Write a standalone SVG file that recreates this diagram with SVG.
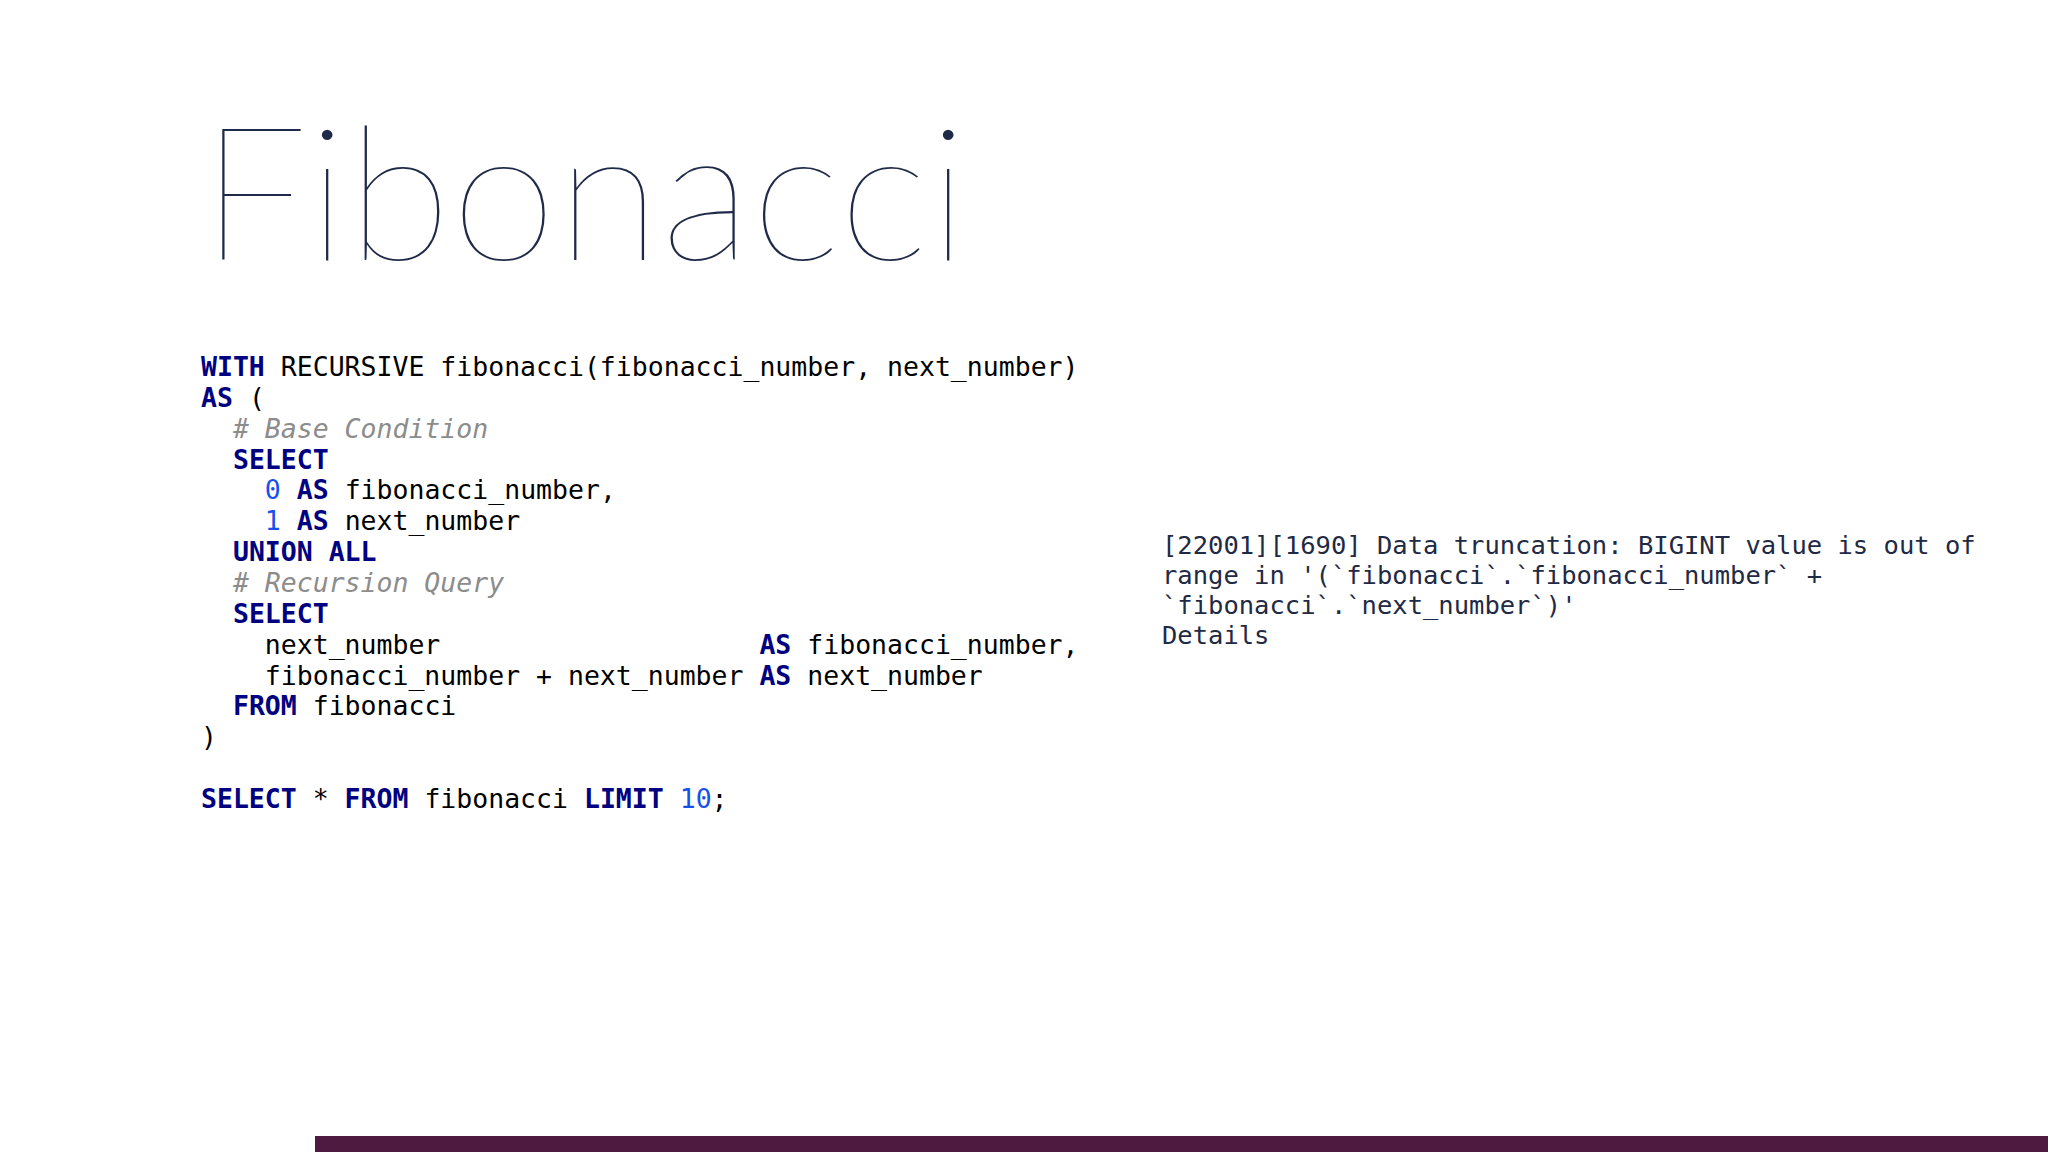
<svg xmlns="http://www.w3.org/2000/svg" width="2048" height="1152" viewBox="0 0 2048 1152">
<style>
.c{font-family:"DejaVu Sans Mono","Liberation Mono",monospace;font-size:26.5px;fill:#000;white-space:pre}
.k{fill:#000080;font-weight:bold}
.n{fill:#1750eb}
.m{fill:#8c8c8c;font-style:italic}
.e{font-family:"DejaVu Sans Mono","Liberation Mono",monospace;font-size:25.5px;fill:#1f2a44;white-space:pre}
</style>
<rect width="2048" height="1152" fill="#ffffff"/>
<g id="title"><text x="200" y="260" font-family="Lato, Roboto, sans-serif" font-weight="200" font-size="186" fill="#1e2a48" textLength="768" lengthAdjust="spacingAndGlyphs">Fibonacci</text></g>
<g id="code">
<text class="c" x="201" y="376"><tspan class="k">WITH</tspan> RECURSIVE fibonacci(fibonacci_number, next_number)</text>
<text class="c" x="201" y="407"><tspan class="k">AS</tspan> (</text>
<text class="c" x="201" y="438">  <tspan class="m"># Base Condition</tspan></text>
<text class="c" x="201" y="469">  <tspan class="k">SELECT</tspan></text>
<text class="c" x="201" y="499">    <tspan class="n">0</tspan> <tspan class="k">AS</tspan> fibonacci_number,</text>
<text class="c" x="201" y="530">    <tspan class="n">1</tspan> <tspan class="k">AS</tspan> next_number</text>
<text class="c" x="201" y="561">  <tspan class="k">UNION ALL</tspan></text>
<text class="c" x="201" y="592">  <tspan class="m"># Recursion Query</tspan></text>
<text class="c" x="201" y="623">  <tspan class="k">SELECT</tspan></text>
<text class="c" x="201" y="654">    next_number                    <tspan class="k">AS</tspan> fibonacci_number,</text>
<text class="c" x="201" y="685">    fibonacci_number + next_number <tspan class="k">AS</tspan> next_number</text>
<text class="c" x="201" y="715">  <tspan class="k">FROM</tspan> fibonacci</text>
<text class="c" x="201" y="746">)</text>
<text class="c" x="201" y="808"><tspan class="k">SELECT</tspan> * <tspan class="k">FROM</tspan> fibonacci <tspan class="k">LIMIT</tspan> <tspan class="n">10</tspan>;</text>
</g>
<g id="error">
<text class="e" x="1162" y="554">[22001][1690] Data truncation: BIGINT value is out of</text>
<text class="e" x="1162" y="584">range in '(`fibonacci`.`fibonacci_number` +</text>
<text class="e" x="1162" y="614">`fibonacci`.`next_number`)'</text>
<text class="e" x="1162" y="644">Details</text>
</g>
<rect id="bar" x="315" y="1136" width="1733" height="16" fill="#4f1a3f"/>
</svg>
